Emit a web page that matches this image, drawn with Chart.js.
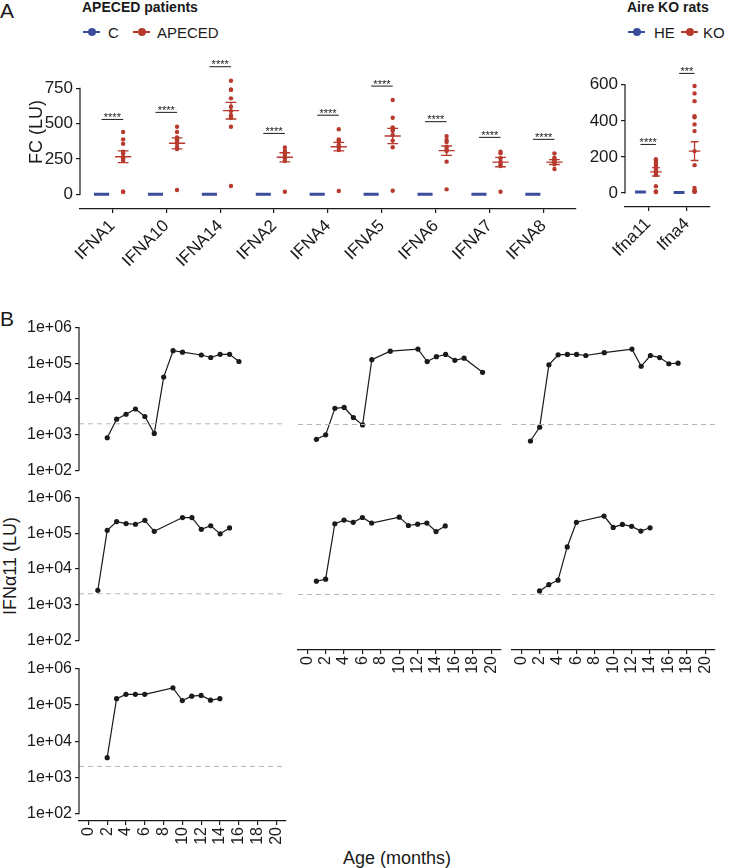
<!DOCTYPE html>
<html>
<head>
<meta charset="utf-8">
<script src="https://cdn.jsdelivr.net/npm/chart.js@4.4.1/dist/chart.umd.min.js"></script>
<style>
  html, body { margin: 0; padding: 0; background: #fff; }
  body { width: 731px; height: 868px; position: relative; overflow: hidden;
         font-family: 'Liberation Sans', Arial, Helvetica, sans-serif; color: #1a1a1a; }
  canvas { position: absolute; }
  .t { position: absolute; white-space: nowrap; line-height: 1; }
  .panel { font-size: 21px; }
  .ttl { font-size: 14px; font-weight: bold; }
  .leg { font-size: 15px; }
  .sym { position: absolute; width: 17px; height: 8px; }
  .sym::before { content: ''; position: absolute; left: 0; right: 0; top: 3.3px; height: 1.4px; background: currentColor; }
  .sym::after { content: ''; position: absolute; left: 4.5px; top: 0; width: 8px; height: 8px; border-radius: 50%; background: currentColor; }
  .axt { font-size: 18px; }
</style>
</head>
<body>
<div class="t panel" style="left:0;top:0">A</div>
<div class="t panel" style="left:0;top:308px">B</div>

<div class="t ttl" style="left:82px;top:0">APECED patients</div>
<span class="sym" style="left:83px;top:28px;color:#3a4d9c"></span>
<div class="t leg" style="left:108px;top:25px">C</div>
<span class="sym" style="left:133px;top:28px;color:#b83a2e"></span>
<div class="t leg" style="left:157px;top:25px">APECED</div>

<div class="t ttl" style="left:627px;top:0">Aire KO rats</div>
<span class="sym" style="left:628px;top:28px;color:#3a4d9c"></span>
<div class="t leg" style="left:654px;top:25px">HE</div>
<span class="sym" style="left:681px;top:28px;color:#b83a2e"></span>
<div class="t leg" style="left:703px;top:25px">KO</div>

<div class="t axt" style="left:10px;top:566px;transform:translate(-50%,-50%) rotate(-90deg)">IFNα11 (LU)</div>
<div class="t axt" style="left:397px;top:849px;transform:translateX(-50%)">Age (months)</div>

<script>
Chart.defaults.font.family = "'Liberation Sans', Arial, Helvetica, sans-serif";
Chart.defaults.color = '#1a1a1a';

const BLUE = '#3a4d9c', RED = '#b83a2e', INK = '#1a1a1a';

// ---------- panel A: APECED patients ----------
const humanGenes = ['IFNA1', 'IFNA10', 'IFNA14', 'IFNA2', 'IFNA4', 'IFNA5', 'IFNA6', 'IFNA7', 'IFNA8'];
const apecedPoints = [
  [441, 389, 358, 302, 290, 266, 255, 250, 240, 18, 18],
  [478, 441, 403, 389, 380, 372, 361, 337, 321, 30],
  [804, 740, 740, 679, 620, 589, 560, 542, 478, 59],
  [332, 306, 295, 290, 271, 262, 255, 236, 18],
  [460, 389, 380, 372, 349, 332, 313, 23],
  [667, 542, 474, 455, 450, 420, 380, 333, 25],
  [412, 384, 370, 337, 321, 306, 231, 35],
  [302, 290, 255, 231, 212, 200, 18],
  [290, 259, 250, 238, 230, 224, 212, 179]
];
const apecedMean = [266, 361, 592, 262, 337, 413, 309, 228, 228];
const apecedSem = [42, 39, 59, 32, 30, 54, 33, 33, 17];
const controlMean = [0, 0, 0, 0, 0, 0, 0, 0, 0];
const humanStarsAt = [530, 580, 903, 431, 560, 766, 514, 403, 389];
const humanStars = ['****', '****', '****', '****', '****', '****', '****', '****', '****'];
const humanTicks = [0, 250, 500, 750];

// ---------- panel A: Aire KO rats ----------
const ratGenes = ['Ifna11', 'Ifna4'];
const koPoints = [
  [187, 180, 167, 160, 150, 140, 130, 122, 111, 100, 37, 8, 6, 5],
  [593, 552, 509, 426, 420, 380, 343, 232, 154, 28, 12, 9, 8, 6]
];
const koMean = [117, 232];
const koSem = [23, 52];
const heMean = [5, 2];
const ratStarsAt = [269, 663];
const ratStars = ['****', '***'];
const ratTicks = [0, 200, 400, 600];

// ---------- panel B: IFNa11 over age ----------
const monthTicks = [0, 2, 4, 6, 8, 10, 12, 14, 16, 18, 20];
const logTicks = [1e2, 1e3, 1e4, 1e5, 1e6];
const cutoff = 2000;
const p1Months = [2, 3, 4, 5, 6, 7, 8, 9, 10, 12, 13, 14, 15, 16];
const p1Values = [810, 2700, 3700, 5200, 3200, 1070, 41000, 225000, 205000, 170000, 145000, 178000, 178000, 112000];
const p2Months = [1, 2, 3, 4, 5, 6, 7, 9, 12, 13, 14, 15, 16, 17, 19];
const p2Values = [794, 1050, 5500, 5800, 3100, 1950, 115000, 195000, 222000, 102000, 138000, 159000, 110000, 126000, 52000];
const p3Months = [1, 2, 3, 4, 5, 6, 7, 9, 12, 13, 14, 15, 16, 17];
const p3Values = [715, 1700, 83000, 155000, 159000, 159000, 149000, 178000, 222000, 76000, 149000, 131000, 89000, 92000];
const p4Months = [1, 2, 3, 4, 5, 6, 7, 10, 11, 12, 13, 14, 15];
const p4Values = [2500, 121000, 212000, 187000, 179000, 230000, 113000, 275000, 275000, 129000, 162000, 96000, 141000];
const p5Months = [1, 2, 3, 4, 5, 6, 7, 10, 11, 12, 13, 14, 15];
const p5Values = [4600, 5200, 166000, 209000, 182000, 245000, 173000, 251000, 149000, 162000, 173000, 102000, 145000];
const p6Months = [2, 3, 4, 5, 6, 9, 10, 11, 12, 13, 14];
const p6Values = [2500, 3700, 4900, 39000, 182000, 269000, 132000, 159000, 141000, 105000, 129000];
const p7Months = [2, 3, 4, 5, 6, 9, 10, 11, 12, 13, 14];
const p7Values = [3500, 148000, 195000, 195000, 195000, 295000, 131000, 174000, 182000, 135000, 148000];

// ---------- plugins ----------
// y axis line only between first and last break (ggplot-like capped axis)
const cappedAxis = {
  id: 'cappedAxis',
  afterDraw(chart) {
    const s = chart.scales.y;
    if (!s.options.display) return;
    const t = s.ticks, ctx = chart.ctx;
    ctx.save();
    ctx.strokeStyle = INK; ctx.lineWidth = 1.2;
    ctx.beginPath();
    ctx.moveTo(s.right, s.getPixelForValue(t[0].value) + 0.6);
    ctx.lineTo(s.right, s.getPixelForValue(t[t.length - 1].value) - 0.6);
    ctx.stroke();
    ctx.restore();
  }
};
const sigStars = {
  id: 'sigStars',
  afterDatasetsDraw(chart, args, o) {
    if (!o.at) return;
    const { ctx, scales: { x, y } } = chart;
    ctx.save();
    ctx.font = "11px 'Liberation Sans', Arial, sans-serif";
    ctx.fillStyle = INK; ctx.textAlign = 'center'; ctx.textBaseline = 'alphabetic';
    o.at.forEach((v, i) => ctx.fillText(o.labels[i], x.getPixelForValue(i), y.getPixelForValue(v) + 1.5));
    ctx.restore();
  }
};

// ---------- helpers ----------
function mkCanvas(left, top, w, h) {
  const c = document.createElement('canvas');
  c.width = w; c.height = h;
  c.style.left = left + 'px'; c.style.top = top + 'px';
  c.style.width = w + 'px'; c.style.height = h + 'px';
  document.body.appendChild(c);
  return c;
}
function segs(list) {
  const out = [];
  list.forEach(([x1, y1, x2, y2]) => out.push({ x: x1, y: y1 }, { x: x2, y: y2 }, { x: x2, y: null }));
  return out;
}
function segDS(list, color, width) {
  return { data: segs(list), showLine: true, spanGaps: false, borderColor: color, borderWidth: width, pointRadius: 0, pointHoverRadius: 0, fill: false };
}
const tickGrid = { display: true, drawOnChartArea: false, drawTicks: true, tickLength: 4, color: INK, lineWidth: 1.2 };

function dotChart(canvas, d) {
  const pts = [], meanSeg = [], semSeg = [], ctlSeg = [], brSeg = [];
  d.points.forEach((vals, i) => vals.forEach((v) => pts.push({ x: i + 0.2, y: v })));
  d.mean.forEach((m, i) => {
    const x = i + 0.2, s = d.sem[i];
    meanSeg.push([x - 0.15, m, x + 0.15, m]);
    semSeg.push([x, m - s, x, m + s], [x - 0.1, m - s, x + 0.1, m - s], [x - 0.1, m + s, x + 0.1, m + s]);
  });
  d.ctl.forEach((m, i) => ctlSeg.push([i - 0.2 - 0.14, m, i - 0.2 + 0.14, m]));
  d.starsAt.forEach((v, i) => brSeg.push([i - 0.2, v, i + 0.2, v]));
  return new Chart(canvas, {
    type: 'scatter',
    data: {
      datasets: [
        segDS(brSeg, INK, 1),
        segDS(ctlSeg, BLUE, 3),
        { data: pts, pointRadius: 2.2, pointBackgroundColor: RED, pointBorderWidth: 0, showLine: false },
        segDS(meanSeg, RED, 1.4),
        segDS(semSeg, RED, 1.3)
      ]
    },
    options: {
      responsive: false, animation: false, devicePixelRatio: 1,
      layout: { padding: { top: 15, right: 4, left: 0, bottom: 0 } },
      plugins: { legend: { display: false }, tooltip: { enabled: false }, sigStars: { at: d.starsAt, labels: d.stars } },
      scales: {
        x: {
          type: 'linear', min: -0.6, max: d.genes.length - 0.4,
          afterBuildTicks: (s) => { s.ticks = d.genes.map((g, i) => ({ value: i })); },
          afterFit: (s) => { s.height = d.xh; },
          grid: tickGrid, border: { display: true, color: INK, width: 1.2 },
          ticks: { autoSkip: false, minRotation: 45, maxRotation: 45, padding: 3, font: { size: 17 }, color: INK, callback: (v) => d.genes[v] }
        },
        y: {
          min: d.ymin, max: d.ymax,
          afterBuildTicks: (s) => { s.ticks = d.yticks.map((v) => ({ value: v })); },
          afterFit: (s) => { s.width = d.yw; },
          grid: tickGrid, border: { display: false },
          title: { display: !!d.title, text: d.title, font: { size: 18 }, color: INK },
          ticks: { padding: 3, font: { size: 17 }, color: INK }
        }
      }
    },
    plugins: [cappedAxis, sigStars]
  });
}

dotChart(mkCanvas(22, 40, 558, 240), {
  genes: humanGenes, points: apecedPoints, mean: apecedMean, sem: apecedSem, ctl: controlMean,
  starsAt: humanStarsAt, stars: humanStars, yticks: humanTicks, ymin: -104, ymax: 986,
  yw: 58, xh: 71, title: 'FC (LU)'
});
dotChart(mkCanvas(585, 40, 129, 240), {
  genes: ratGenes, points: koPoints, mean: koMean, sem: koSem, ctl: heMean,
  starsAt: ratStarsAt, stars: ratStars, yticks: ratTicks, ymin: -78, ymax: 765,
  yw: 40, xh: 73, title: ''
});

// ---------- panel B ----------
const colLeft = [79, 293.5, 508];
const rowTop = [324.5, 495.2, 665.9];
const PW = 207, PH = 155, YW = 79, XH = 36;

const bPanels = [
  { m: p1Months, v: p1Values, col: 0, row: 0, xAxis: false },
  { m: p2Months, v: p2Values, col: 1, row: 0, xAxis: false },
  { m: p3Months, v: p3Values, col: 2, row: 0, xAxis: false },
  { m: p4Months, v: p4Values, col: 0, row: 1, xAxis: false },
  { m: p5Months, v: p5Values, col: 1, row: 1, xAxis: true },
  { m: p6Months, v: p6Values, col: 2, row: 1, xAxis: true },
  { m: p7Months, v: p7Values, col: 0, row: 2, xAxis: true }
];

bPanels.forEach((p) => {
  const yAxis = p.col === 0;
  const left = colLeft[p.col] - (yAxis ? YW : 0);
  const top = rowTop[p.row] - 10;
  const w = (yAxis ? YW : 0) + PW + 12;
  const h = 10 + PH + (p.xAxis ? XH : 10);
  new Chart(mkCanvas(left, top, w, h), {
    type: 'scatter',
    data: {
      datasets: [
        { data: [{ x: -1, y: cutoff }, { x: 21, y: cutoff }], showLine: true, borderColor: '#b5b5b5', borderWidth: 1, borderDash: [5, 4], pointRadius: 0 },
        { data: p.m.map((mo, i) => ({ x: mo, y: p.v[i] })), showLine: true, borderColor: INK, borderWidth: 1.2,
          pointRadius: 2.6, pointBackgroundColor: INK, pointBorderWidth: 0 }
      ]
    },
    options: {
      responsive: false, animation: false, devicePixelRatio: 1,
      layout: { padding: { top: 10, right: 12, left: 0, bottom: p.xAxis ? 0 : 10 } },
      plugins: { legend: { display: false }, tooltip: { enabled: false } },
      scales: {
        x: {
          type: 'linear', min: -1, max: 21, display: p.xAxis,
          afterBuildTicks: (s) => { s.ticks = monthTicks.map((v) => ({ value: v })); },
          afterFit: (s) => { if (p.xAxis) s.height = XH; },
          grid: tickGrid, border: { display: true, color: INK, width: 1.2 },
          ticks: { autoSkip: false, minRotation: 90, maxRotation: 90, padding: 2, font: { size: 16 }, color: INK, callback: (v) => String(v) }
        },
        y: {
          type: 'logarithmic', min: 62.6, max: 1e6, display: yAxis,
          afterBuildTicks: (s) => { s.ticks = logTicks.map((v) => ({ value: v })); },
          afterFit: (s) => { if (yAxis) s.width = YW; },
          grid: tickGrid, border: { display: false },
          ticks: { padding: 3, font: { size: 16 }, color: INK,
            callback: (v) => '1e+' + String(Math.round(Math.log10(v))).padStart(2, '0') }
        }
      }
    },
    plugins: [cappedAxis]
  });
});
</script>
</body>
</html>
